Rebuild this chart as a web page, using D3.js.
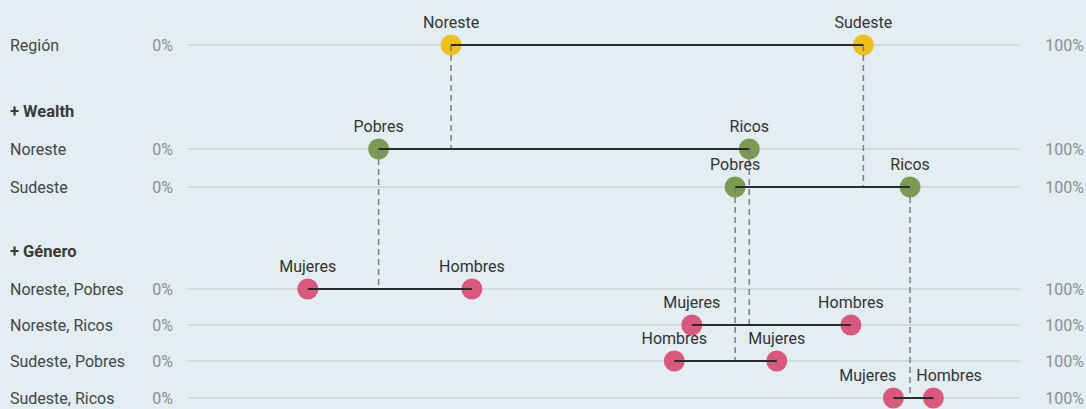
<!DOCTYPE html>
<html>
<head>
<meta charset="utf-8">
<script src="https://cdn.jsdelivr.net/npm/d3@7"></script>
<style>
  body { margin: 0; background: #e3eef2; }
  svg { display: block; font-family: Roboto, "Open Sans", sans-serif; }
</style>
</head>
<body>
<div id="chart"></div>
<script>
// chart size
let width = 1086;
let height = 409;

// row labels and group headers
const rowLabels = ["Región", "Noreste", "Sudeste", "Noreste, Pobres", "Noreste, Ricos", "Sudeste, Pobres", "Sudeste, Ricos"];
const groupHeaders = ["+ Wealth", "+ Género"];

// first dot / second dot names per row
const leftNames = ["Noreste", "Pobres", "Pobres", "Mujeres", "Mujeres", "Hombres", "Mujeres"];
const rightNames = ["Sudeste", "Ricos", "Ricos", "Hombres", "Hombres", "Mujeres", "Hombres"];

// values in percent
const leftValues = [31.7, 23.0, 65.8, 14.5, 60.6, 58.5, 84.8];
const rightValues = [81.2, 67.5, 86.8, 34.2, 79.7, 70.8, 89.6];

// which parent row / side every row hangs from (row index, 0 = left, 1 = right)
const parents = [null, [0, 0], [0, 1], [1, 0], [1, 1], [2, 0], [2, 1]];

const levelColors = ["#f0bf1e", "#7b9a52", "#d9587c"];
const levelOfRow = [0, 1, 1, 2, 2, 2, 2];

// y positions of the rows and headers
const rowY = [45, 149, 187, 289, 325, 361, 398];
const headerY = [111, 251];

const fontSize = "16px";

const svg = d3.select("#chart")
    .append("svg")
    .attr("width", width)
    .attr("height", height);

svg.append("rect")
    .attr("width", width)
    .attr("height", height)
    .attr("fill", "#e3eef2");

const x = d3.scaleLinear().domain([0, 100]).range([187, 1020]);

const rows = rowLabels.map((label, i) => ({
    label: label,
    y: rowY[i],
    left: { name: leftNames[i], value: leftValues[i] },
    right: { name: rightNames[i], value: rightValues[i] },
    parent: parents[i],
    color: levelColors[levelOfRow[i]]
}));

// gridlines
svg.append("g")
    .selectAll("line")
    .data(rows)
    .join("line")
    .attr("x1", x(0))
    .attr("x2", x(100))
    .attr("y1", d => d.y)
    .attr("y2", d => d.y)
    .attr("stroke", "#bfcacb")
    .attr("stroke-width", 1);

// row labels
svg.append("g")
    .selectAll("text")
    .data(rows)
    .join("text")
    .attr("x", 10)
    .attr("y", d => d.y + 5.5)
    .attr("fill", "#454545")
    .style("font-size", fontSize)
    .text(d => d.label);

// group headers
svg.append("g")
    .selectAll("text")
    .data(groupHeaders)
    .join("text")
    .attr("x", 10)
    .attr("y", (d, i) => headerY[i] + 5.5)
    .attr("fill", "#3a3a3a")
    .style("font-size", "16.5px")
    .style("font-weight", "bold")
    .text(d => d);

// 0% and 100% labels
svg.append("g")
    .selectAll("text")
    .data(rows)
    .join("text")
    .attr("x", x(0) - 14)
    .attr("y", d => d.y + 5.5)
    .attr("text-anchor", "end")
    .attr("fill", "#8a8f91")
    .style("font-size", fontSize)
    .text("0%");

svg.append("g")
    .selectAll("text")
    .data(rows)
    .join("text")
    .attr("x", 1084)
    .attr("y", d => d.y + 5.5)
    .attr("text-anchor", "end")
    .attr("fill", "#8a8f91")
    .style("font-size", fontSize)
    .text("100%");

// dots
const dots = rows.flatMap(r => [
    { row: r, side: 0, name: r.left.name, value: r.left.value },
    { row: r, side: 1, name: r.right.name, value: r.right.value }
]);

svg.append("g")
    .selectAll("circle")
    .data(dots)
    .join("circle")
    .attr("cx", d => x(d.value))
    .attr("cy", d => d.row.y)
    .attr("r", 10.5)
    .attr("fill", d => d.row.color);

// dashed links from the parent dot down to the child row
const links = rows.filter(r => r.parent).map(r => {
    const p = rows[r.parent[0]];
    const v = r.parent[1] === 0 ? p.left.value : p.right.value;
    return { value: v, y1: p.y, y2: r.y };
});

svg.append("g")
    .selectAll("line")
    .data(links)
    .join("line")
    .attr("x1", d => x(d.value))
    .attr("x2", d => x(d.value))
    .attr("y1", d => d.y1)
    .attr("y2", d => d.y2)
    .attr("stroke", "#7a7f82")
    .attr("stroke-width", 1.5)
    .attr("stroke-dasharray", "6,4");

// connecting lines between the two dots
svg.append("g")
    .selectAll("line")
    .data(rows)
    .join("line")
    .attr("x1", d => x(d.left.value))
    .attr("x2", d => x(d.right.value))
    .attr("y1", d => d.y)
    .attr("y2", d => d.y)
    .attr("stroke", "#2b2b2b")
    .attr("stroke-width", 2);

// dot labels, centred over the dot
const labels = svg.append("g")
    .selectAll("text")
    .data(dots)
    .join("text")
    .attr("x", d => x(d.value))
    .attr("y", d => d.row.y - 17)
    .attr("text-anchor", "middle")
    .attr("fill", "#333")
    .style("font-size", fontSize)
    .text(d => d.name);

// push apart the two labels of a row when they run into each other
const minGap = 20;
rows.forEach(r => {
    const pair = labels.filter(d => d.row === r).nodes();
    const a = pair[0], b = pair[1];
    const wa = a.getComputedTextLength(), wb = b.getComputedTextLength();
    const xa = x(r.left.value), xb = x(r.right.value);
    const overlap = (xa + wa / 2 + minGap) - (xb - wb / 2);
    if (overlap > 0) {
        d3.select(a).attr("x", xa - overlap * 0.62);
        d3.select(b).attr("x", xb + overlap * 0.38);
    }
});
</script>
</body>
</html>
